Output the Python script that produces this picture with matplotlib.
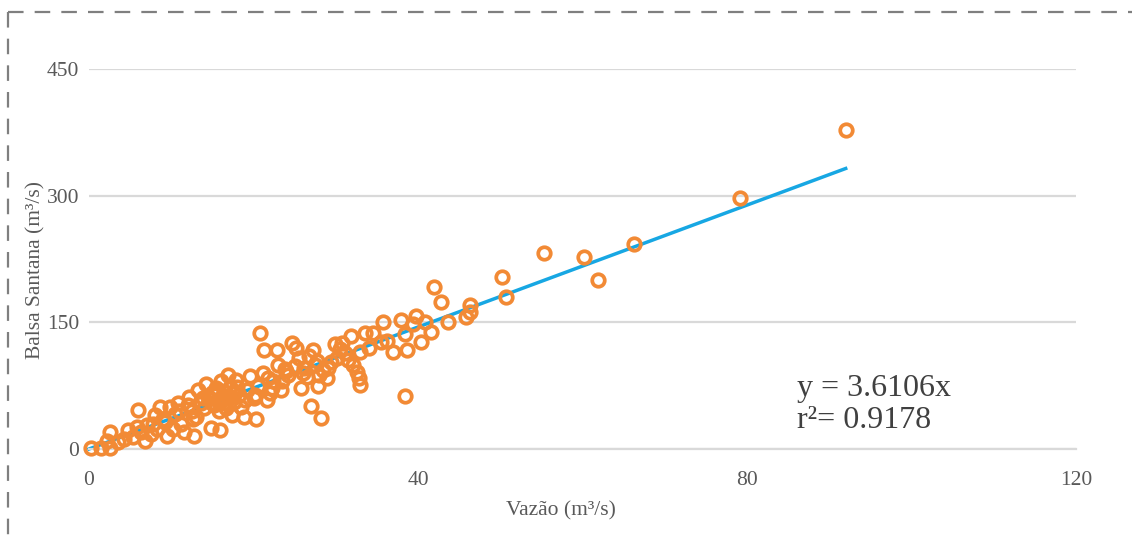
import matplotlib
matplotlib.use("Agg")
import matplotlib.pyplot as plt
from matplotlib.lines import Line2D
import numpy as np

# ---- data ----
vazao = [0.2, 1.5, 2.5, 2.2, 2.6, 3.5, 4.2, 4.8, 5.3, 6.0, 6.3, 6.8, 7.0, 7.5, 8.0, 8.3, 8.6, 9.2, 9.5, 9.8,
         10.2, 10.5, 10.8, 11.2, 11.5, 12.0, 12.2, 12.5, 12.8, 13.0,
         13.3, 13.6, 14.0, 14.2, 14.5, 14.8, 15.0, 15.2, 15.4, 15.6, 15.8, 15.9, 16.0, 16.2, 16.4, 16.5, 16.7,
         16.9, 17.0, 17.2, 17.4, 17.6, 17.9, 18.2, 18.5, 18.8, 19.2, 19.6, 20.0, 20.3, 20.6, 20.8, 21.1, 21.3,
         21.6, 22.0, 22.4, 22.8, 23.0, 23.3, 23.8, 24.2, 24.7, 25.2, 25.5, 25.8, 26.2, 26.5, 27.0, 27.2, 27.5,
         27.9, 28.2, 28.5, 28.9, 29.4, 29.9, 30.2, 30.8, 31.1, 31.8, 32.1, 32.6, 32.8, 33.0, 33.0, 33.5, 34.5,
         35.5, 35.7, 37.0, 37.9, 38.4, 38.4, 38.7, 39.4, 39.7, 40.4, 40.9, 41.6, 41.9, 42.8, 43.6, 45.8, 46.3,
         46.3, 50.2, 50.7, 55.3, 60.2, 61.9, 66.3, 79.2, 92.0,
         14.6, 15.3, 16.1, 16.8, 15.7, 14.9, 13.8, 17.5, 18.0, 12.6, 11.0, 19.0, 21.8, 24.0, 25.0, 26.8, 28.0,
         29.0, 30.5, 31.5, 34.0, 36.2, 23.5, 22.2, 20.2, 26.0, 27.7, 9.0, 7.8, 5.8]
balsa = [1, 1, 1, 10, 20, 8, 12, 22, 14, 46, 20, 10, 28, 18, 40, 24, 50, 32, 15, 50,
         24, 42, 54, 30, 20, 52, 62, 45, 15, 38,
         70, 55, 48, 77, 62, 25, 66, 52, 72, 58, 45, 23, 80, 62, 54, 68, 48,
         88, 60, 74, 40, 56, 82, 64, 50, 38, 70, 86, 60, 36, 75, 137, 90, 117,
         58, 66, 80, 117, 100, 70, 95, 88, 125, 120, 108, 72, 96, 85, 51, 117, 100,
         75, 37, 94, 84, 103, 124, 108, 126, 114, 134, 99, 91, 84, 76, 115, 137, 137,
         127, 150, 115, 153, 136, 63, 117, 148, 157, 127, 150, 139, 192, 174, 150, 156, 162,
         170, 204, 180, 232, 227, 200, 243, 297, 378,
         60, 64, 57, 63, 70, 55, 60, 66, 74, 35, 45, 58, 84, 92, 98, 110, 88,
         96, 118, 105, 120, 128, 80, 72, 64, 90, 104, 36, 30, 26]
slope = 3.6106
r2 = 0.9178
x_ticks = [0, 40, 80, 120]
y_ticks = [0, 150, 300, 450]

# ---- figure ----
W, H = 1132, 543
fig = plt.figure(figsize=(W / 100, H / 100), dpi=100)
ax = fig.add_axes([89 / W, (H - 449) / H, (1076 - 89) / W, (449 - 69) / H])

font = "Liberation Serif"
txt_col = "#595959"
grid_col = "#d9d9d9"

ax.set_xlim(0, 120)
ax.set_ylim(0, 450)
ax.set_xticks(x_ticks)
ax.set_yticks(y_ticks)
ax.set_xticklabels([str(v) for v in x_ticks], fontfamily=font, fontsize=15.5, color=txt_col)
ax.set_yticklabels([str(v) for v in y_ticks], fontfamily=font, fontsize=15.5, color=txt_col)
ax.tick_params(axis="both", length=0)
ax.tick_params(axis="x", pad=16)
ax.tick_params(axis="y", pad=7)
ax.grid(axis="y", color=grid_col, linewidth=1.6)
ax.set_axisbelow(True)
for s in ["top", "right", "left"]:
    ax.spines[s].set_visible(False)
ax.spines["bottom"].set_color(grid_col)
ax.spines["bottom"].set_linewidth(1.6)

# trend line
xl = np.array([0, max(vazao)])
ax.plot(xl, slope * xl, color="#17a7e3", linewidth=2.5, zorder=2, clip_on=False)

# scatter
ax.plot(vazao, balsa, linestyle="none", marker="o", markersize=9.0,
        markerfacecolor="none", markeredgecolor="#f28a35", markeredgewidth=2.7,
        zorder=3, clip_on=False)

ax.set_xlabel("Vazão (m³/s)", fontfamily=font, fontsize=15.5, color=txt_col)
ax.set_ylabel("Balsa Santana (m³/s)", fontfamily=font, fontsize=15.5, color=txt_col)
ax.xaxis.set_label_coords((561 - 89) / 987, (449 - 511) / 380)
ax.xaxis.label.set_va("center")
ax.yaxis.set_label_coords((36 - 89) / 987, (449 - 270) / 380)
ax.yaxis.label.set_va("center")

fig.text(797 / W, 1 - 396 / H, f"y = {slope}x", fontfamily=font, fontsize=23,
         color="#404040", ha="left", va="baseline")
fig.text(797 / W, 1 - 428 / H, f"r²= {r2}", fontfamily=font, fontsize=23,
         color="#404040", ha="left", va="baseline")

# dashed border
dash = dict(color="#7f7f7f", linewidth=1.6, linestyle=(0, (7, 5)))
fig.add_artist(Line2D([8 / W, 1.0], [1 - 12 / H, 1 - 12 / H], transform=fig.transFigure, **dash))
fig.add_artist(Line2D([8 / W, 8 / W], [1 - 12 / H, 0], transform=fig.transFigure, **dash))

fig.savefig("out.png", dpi=100, facecolor="white")
